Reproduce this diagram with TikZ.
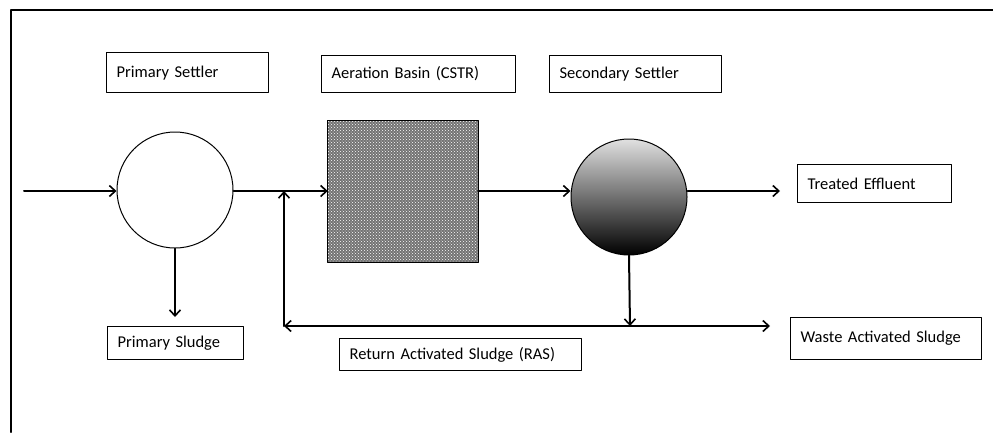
\documentclass[tikz,border=0pt]{standalone}
\usepackage{fontspec}
\setmainfont{Carlito}
\usepackage{tikz}
\usetikzlibrary{arrows.meta,patterns}

\tikzset{
  flow/.style={line width=2pt,->},
  tagbox/.style={draw,line width=1.2pt,anchor=north west,inner xsep=10pt,inner ysep=0pt,align=left,font=\fontsize{16.5}{19}\selectfont},
  settler/.style={circle,draw,line width=1pt,minimum size=116pt,inner sep=0pt}
}

\begin{document}
\begin{tikzpicture}[line cap=round,line join=round,>={Straight Barb[length=6pt,width=11pt,line width=1.6pt]},x=1pt,y=-1pt]
\useasboundingbox (0,0) rectangle (993,432);
\draw [line width=2pt] (11,432) -- (11,10) -- (993,10);
% units
\node [settler,fill=white] (prim) at (175,190) {};
\node [settler,top color=black!12,bottom color=black] (sec) at (629,197) {};
\node [minimum width=150pt,minimum height=141pt,inner sep=0pt] (tank) at (403,191.5) {};
\fill [black!55] (tank.south west) rectangle (tank.north east);
\fill [pattern=crosshatch dots,pattern color=white] (tank.south west) rectangle (tank.north east);
\draw [line width=1.2pt] (tank.south west) rectangle (tank.north east);
% labels
\node [tagbox,text width=142pt,minimum height=40pt] (primlab) at (106,52) {Primary Settler};
\node [tagbox,text width=174pt,minimum height=37pt] (tanklab) at (321,55) {Aeration Basin (CSTR)};
\node [tagbox,text width=152pt,minimum height=37pt] (seclab) at (549,55) {Secondary Settler};
\node [tagbox,text width=134pt,minimum height=38pt] (efflab) at (797,164) {Treated Effluent};
\node [tagbox,text width=116pt,minimum height=33pt] (pslab) at (107,326) {Primary Sludge};
\node [tagbox,text width=222pt,minimum height=32pt] (raslab) at (339,338) {Return Activated Sludge (RAS)};
\node [tagbox,text width=171pt,minimum height=42pt] (waslab) at (790,317) {Waste Activated Sludge};
% flow lines
\coordinate (feed) at (24,191);
\coordinate (eff) at (780,191);
\coordinate (psout) at (175,317);
\coordinate (ret) at (284,326);
\coordinate (split) at (630,326);
\coordinate (waste) at (770,326);
\draw [flow] (feed) -- (feed -| prim.west);
\draw [flow] (prim.east |- feed) -- (feed -| tank.west);
\draw [flow] (feed -| tank.east) -- (feed -| sec.west);
\draw [flow] (feed -| sec.east) -- (eff);
\draw [flow] (prim.south) -- (psout);
\draw [flow] (sec.south) -- (split);
\draw [flow,<->] (ret) -- (waste);
\draw [flow] (ret) -- (ret |- feed);
\end{tikzpicture}
\end{document}
